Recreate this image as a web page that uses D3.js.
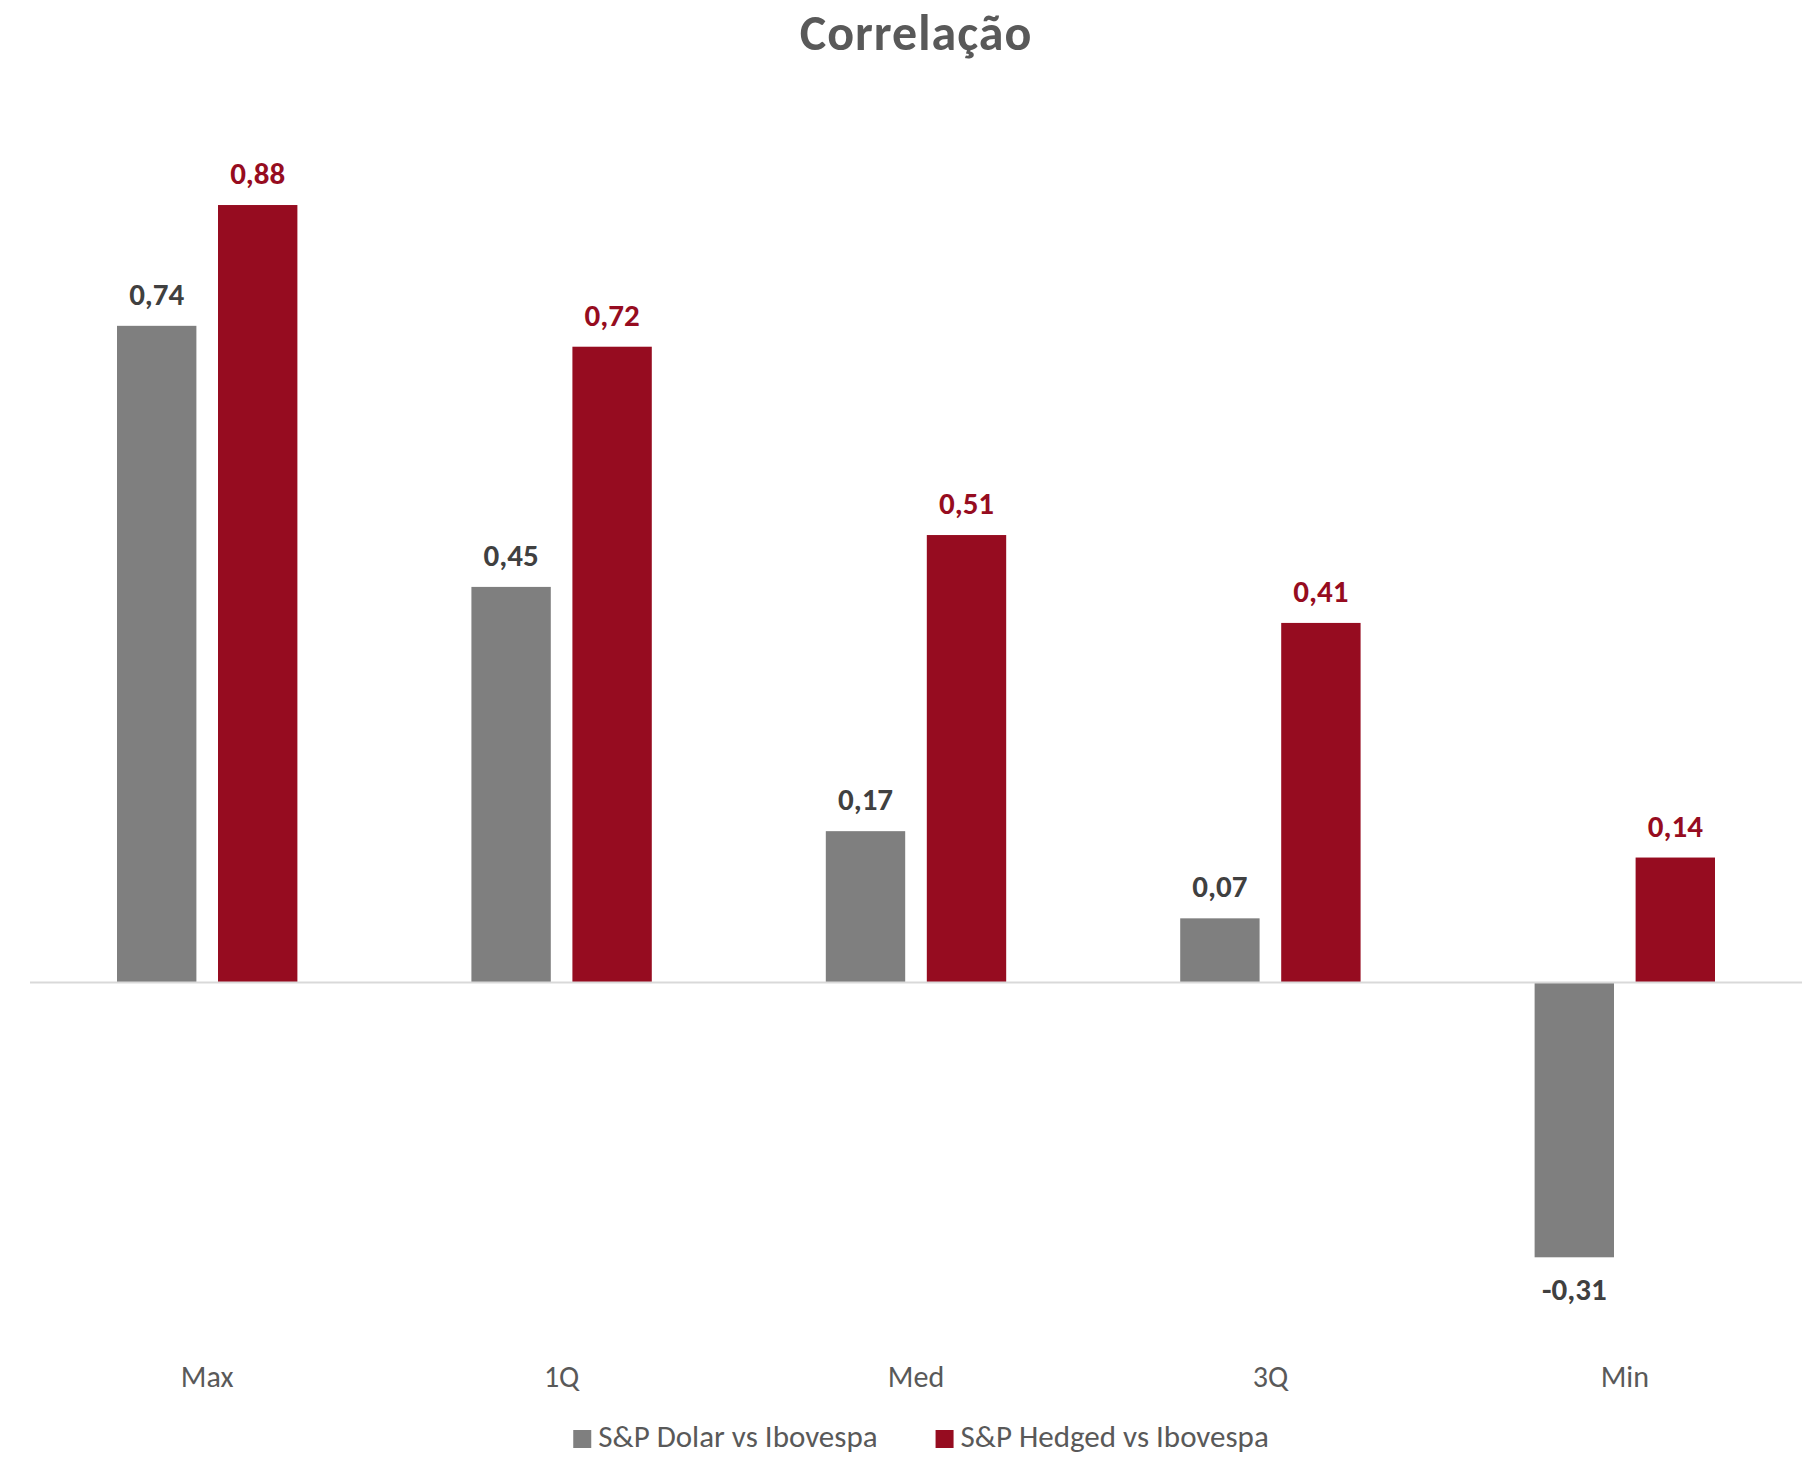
<!DOCTYPE html>
<html>
<head>
<meta charset="utf-8">
<script src="https://cdn.jsdelivr.net/npm/d3@7"></script>
<style>
  body { margin: 0; background: #fff; }
  text { font-family: Carlito, Calibri, Lato, sans-serif; }
</style>
</head>
<body>
<script>
var width = 1812,
	height = 1457;

var categories = ["Max", "1Q", "Med", "3Q", "Min"],
	series = ["S&P Dolar vs Ibovespa", "S&P Hedged vs Ibovespa"],
	colors = ["#7f7f7f", "#960c20"],
	labelColors = ["#404040", "#960c20"],
	dolarValues = [0.742, 0.447, 0.171, 0.0725, -0.3105],
	hedgedValues = [0.8785, 0.7184, 0.5056, 0.4063, 0.1412];

var values = [];
categories.forEach(function(c, i) {
	values.push({ cat: c, s: 0, value: dolarValues[i] });
	values.push({ cat: c, s: 1, value: hedgedValues[i] });
});

var svg = d3.select("body").append("svg")
	.attr("width", width)
	.attr("height", height);

var x0 = d3.scaleBand()
	.domain(categories)
	.range([30, 1802]);

var x1 = d3.scaleBand()
	.domain([0, 1])
	.range([0, x0.bandwidth()])
	.paddingInner(0.214)
	.paddingOuter(0.8615);

var y = d3.scaleLinear()
	.domain([-0.4, 1.0])
	.range([1336.5, 97.5]);

// excel style: comma decimal, plain hyphen for negatives
var fmt = function(v) { return v.toFixed(2).replace(".", ","); };

// title
svg.append("text")
	.attr("x", 916)
	.attr("y", 50)
	.attr("text-anchor", "middle")
	.style("font-size", "50px")
	.style("font-weight", "bold")
	.style("letter-spacing", "1px")
	.style("fill", "#595959")
	.text("Correlação");

// bars
svg.selectAll(".bar")
	.data(values)
	.enter().append("rect")
	.attr("class", "bar")
	.attr("x", function(d) { return x0(d.cat) + x1(d.s); })
	.attr("y", function(d) { return y(Math.max(0, d.value)); })
	.attr("width", x1.bandwidth())
	.attr("height", function(d) { return Math.abs(y(d.value) - y(0)); })
	.style("fill", function(d) { return colors[d.s]; });

// zero axis line
svg.append("line")
	.attr("x1", 30)
	.attr("x2", 1802)
	.attr("y1", y(0))
	.attr("y2", y(0))
	.style("stroke", "#d9d9d9")
	.style("stroke-width", 2);

// data labels
svg.selectAll(".label")
	.data(values)
	.enter().append("text")
	.attr("class", "label")
	.attr("x", function(d) { return x0(d.cat) + x1(d.s) + x1.bandwidth() / 2; })
	.attr("y", function(d) { return d.value >= 0 ? y(d.value) - 21 : y(d.value) + 43; })
	.attr("text-anchor", "middle")
	.style("font-size", "31px")
	.style("font-weight", "bold")
	.style("fill", function(d) { return labelColors[d.s]; })
	.text(function(d) { return fmt(d.value); });

// category labels
svg.selectAll(".catLabel")
	.data(categories)
	.enter().append("text")
	.attr("class", "catLabel")
	.attr("x", function(d) { return x0(d) + x0.bandwidth() / 2; })
	.attr("y", 1387)
	.attr("text-anchor", "middle")
	.style("font-size", "30px")
	.style("fill", "#595959")
	.text(function(d) { return d; });

// legend
var legend = svg.append("g");
var items = legend.selectAll(".legend")
	.data(series)
	.enter().append("g")
	.attr("class", "legend");

items.append("rect")
	.attr("x", 0)
	.attr("y", -17)
	.attr("width", 18)
	.attr("height", 18)
	.style("fill", function(d, i) { return colors[i]; });

items.append("text")
	.attr("x", 25)
	.attr("y", 0)
	.style("font-size", "31px")
	.style("fill", "#595959")
	.text(function(d) { return d; });

var pos = 0;
items.each(function(d, i) {
	var w = d3.select(this).select("text").node().getComputedTextLength() + 25;
	d3.select(this).attr("transform", "translate(" + pos + ",0)");
	pos += w + 58;
});
var total = pos - 58;
legend.attr("transform", "translate(" + (921 - total / 2) + ",1447)");
</script>
</body>
</html>
